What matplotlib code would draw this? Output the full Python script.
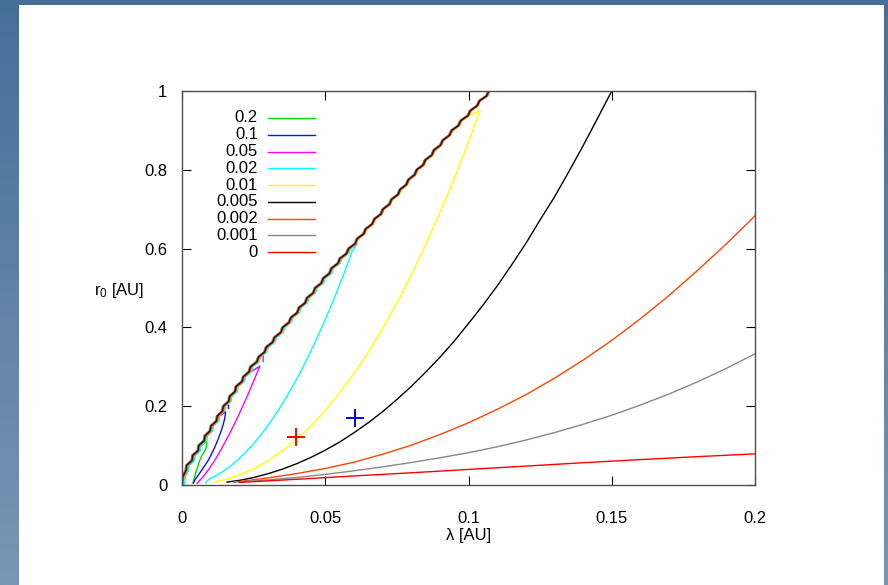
"""Stability region curves r0 vs lambda, gnuplot-like look."""

import matplotlib
matplotlib.use("Agg")
import matplotlib.pyplot as plt
import numpy as np
from matplotlib.patches import Rectangle

plt.rcParams["font.family"] = ["Liberation Sans", "DejaVu Sans"]
plt.rcParams["mathtext.fontset"] = "custom"
plt.rcParams["mathtext.rm"] = "Liberation Sans"
plt.rcParams["mathtext.it"] = "Liberation Sans"

# legend entries, top to bottom
labels = ["0.2", "0.1", "0.05", "0.02", "0.01", "0.005", "0.002", "0.001", "0"]
colors = ["#00e000", "#1010ff", "#ff00ff", "#00ffff", "#ffff00",
          "#000000", "#ff4500", "#888888", "#ff0000"]

# shared wavy upper boundary (lambda, r0)
boundary_r = [0.0, 0.02, 0.0375, 0.05, 0.0625, 0.075, 0.0875, 0.1, 0.1125, 0.125,
              0.1375, 0.15, 0.1625, 0.175, 0.1875, 0.2, 0.2125, 0.225, 0.2375, 0.25,
              0.2625, 0.275, 0.2875, 0.3, 0.3125, 0.325, 0.3375, 0.35, 0.3625, 0.375,
              0.3875, 0.4, 0.4125, 0.425, 0.4375, 0.45, 0.4625, 0.475, 0.4875, 0.5,
              0.5125, 0.525, 0.5375, 0.55, 0.5625, 0.575, 0.5875, 0.6, 0.6125, 0.625,
              0.6375, 0.65, 0.6625, 0.675, 0.6875, 0.7, 0.7125, 0.725, 0.7375, 0.75,
              0.7625, 0.775, 0.7875, 0.8, 0.8125, 0.825, 0.8375, 0.85, 0.8625, 0.875,
              0.8875, 0.9, 0.9125, 0.925, 0.9375, 0.95, 0.9625, 0.975, 0.9875, 1.0]
boundary_lam = [0.0, 0.0002, 0.0014, 0.0016, 0.0035, 0.0037, 0.0056, 0.0058, 0.0077, 0.0080,
                0.0098, 0.0101, 0.0120, 0.0123, 0.0141, 0.0144, 0.0163, 0.0166, 0.0185, 0.0188,
                0.0209, 0.0214, 0.0234, 0.0239, 0.0261, 0.0267, 0.0288, 0.0294, 0.0316, 0.0323,
                0.0345, 0.0351, 0.0373, 0.0380, 0.0402, 0.0408, 0.0430, 0.0436, 0.0458, 0.0464,
                0.0486, 0.0493, 0.0515, 0.0521, 0.0544, 0.0551, 0.0574, 0.0581, 0.0604, 0.0611,
                0.0634, 0.0641, 0.0664, 0.0671, 0.0694, 0.0701, 0.0724, 0.0731, 0.0754, 0.0761,
                0.0783, 0.0790, 0.0812, 0.0819, 0.0842, 0.0849, 0.0872, 0.0879, 0.0902, 0.0910,
                0.0933, 0.0941, 0.0965, 0.0973, 0.0998, 0.1006, 0.1030, 0.1038, 0.1063, 0.1071]

# closed curves leave the boundary at these r0 values (0.2 .. 0.01)
loop_top = [0.1, 0.175, 0.2875, 0.6125, 0.9375]

# lower branches, from the tip down towards the origin
green_lam = [0.0086, 0.0086, 0.0083, 0.0077, 0.0070, 0.0065, 0.0060, 0.0055, 0.0050, 0.0045, 0.0041, 0.0038]
green_r = [0.110, 0.100, 0.092, 0.083, 0.076, 0.068, 0.058, 0.047, 0.036, 0.024, 0.013, 0.005]
blue_lam = [0.0152, 0.0151, 0.0148, 0.0143, 0.0138, 0.0127, 0.0115, 0.0104, 0.0092, 0.0080,
            0.0069, 0.0057, 0.0045, 0.0040]
blue_r = [0.186, 0.178, 0.165, 0.152, 0.140, 0.118, 0.097, 0.080, 0.063, 0.050,
          0.038, 0.025, 0.013, 0.005]
magenta_lam = [0.0272, 0.0260, 0.0245, 0.0230, 0.0215, 0.0200, 0.0185, 0.0170, 0.0155, 0.0140,
               0.0125, 0.0110, 0.0095, 0.0080, 0.0065, 0.0057, 0.0053]
magenta_r = [0.302, 0.281, 0.255, 0.229, 0.205, 0.181, 0.158, 0.136, 0.115, 0.0946,
             0.0755, 0.0578, 0.0414, 0.0267, 0.014, 0.0082, 0.004]
cyan_lam = [0.0595, 0.0570, 0.0545, 0.0520, 0.0495, 0.0470, 0.0445, 0.0420, 0.0395, 0.0370,
            0.0345, 0.0320, 0.0295, 0.0270, 0.0245, 0.0220, 0.0195, 0.0170, 0.0145, 0.0120,
            0.0095, 0.0082]
cyan_r = [0.595, 0.546, 0.499, 0.454, 0.412, 0.371, 0.333, 0.296, 0.262, 0.230,
          0.200, 0.172, 0.146, 0.1225, 0.101, 0.0813, 0.0639, 0.0486, 0.0353, 0.0242,
          0.0152, 0.006]
yellow_lam = [0.1040, 0.1000, 0.0950, 0.0900, 0.0850, 0.0800, 0.0750, 0.0700, 0.0650, 0.0600,
              0.0550, 0.0500, 0.0450, 0.0400, 0.0350, 0.0300, 0.0250, 0.0200, 0.0150, 0.0115]
yellow_r = [0.950, 0.871, 0.778, 0.691, 0.610, 0.533, 0.462, 0.397, 0.337, 0.283,
            0.234, 0.189, 0.150, 0.116, 0.0865, 0.0616, 0.0412, 0.0253, 0.0134, 0.0075]

# open lower branches, from the origin end outwards
black_lam = [0.0157, 0.020, 0.025, 0.030, 0.035, 0.040, 0.045, 0.050, 0.055, 0.060,
             0.065, 0.070, 0.075, 0.080, 0.085, 0.090, 0.095, 0.100, 0.105, 0.110,
             0.115, 0.120, 0.125, 0.130, 0.135, 0.140, 0.145, 0.150]
black_r = [0.0075, 0.0117, 0.019, 0.0286, 0.0402, 0.054, 0.070, 0.0884, 0.109, 0.1325,
           0.158, 0.186, 0.217, 0.250, 0.286, 0.324, 0.365, 0.410, 0.456, 0.505,
           0.558, 0.613, 0.673, 0.731, 0.795, 0.861, 0.930, 1.0]
orange_lam = [0.0197, 0.03, 0.04, 0.05, 0.06, 0.07, 0.08, 0.09, 0.10, 0.11,
              0.12, 0.13, 0.14, 0.15, 0.16, 0.17, 0.18, 0.19, 0.20]
orange_r = [0.0085, 0.018, 0.029, 0.042, 0.058, 0.078, 0.101, 0.128, 0.158, 0.192,
            0.229, 0.271, 0.317, 0.367, 0.422, 0.481, 0.545, 0.612, 0.683]
gray_lam = [0.018, 0.03, 0.04, 0.05, 0.06, 0.07, 0.08, 0.09, 0.10, 0.11,
            0.12, 0.13, 0.14, 0.15, 0.16, 0.17, 0.18, 0.19, 0.20]
gray_r = [0.007, 0.013, 0.019, 0.027, 0.036, 0.046, 0.057, 0.069, 0.082, 0.097,
          0.114, 0.133, 0.154, 0.177, 0.203, 0.231, 0.262, 0.296, 0.333]
red_lam = [0.020, 0.04, 0.06, 0.08, 0.10, 0.12, 0.14, 0.16, 0.18, 0.20]
red_r = [0.0065, 0.0145, 0.023, 0.031, 0.0395, 0.048, 0.0565, 0.0645, 0.072, 0.079]

# small stray contour pieces above the 0.05 and 0.1 tips
stray_lam = [[0.0284, 0.0283], [0.0162, 0.0162]]
stray_r = [[0.326, 0.313], [0.203, 0.195]]
stray_idx = [2, 1]

# marked points
mark_lam = [0.0398, 0.0604]
mark_r = [0.122, 0.170]
mark_colors = ["#ff0000", "#0000ff"]

loop_lower = [(green_lam, green_r), (blue_lam, blue_r), (magenta_lam, magenta_r),
              (cyan_lam, cyan_r), (yellow_lam, yellow_r)]
open_lower = [(black_lam, black_r), (orange_lam, orange_r), (gray_lam, gray_r), (red_lam, red_r)]

# style: small sideways shifts so the overlapping boundaries blend
loop_shift = [0.0007, 0.0007, 0.0007, 0.0008, 0.0004]
# drawing order for the shared boundary: red, gray, orange, black on top
edge_order = [3, 2, 1, 0]
edge_shift = {0: 0.0, 1: 0.0003, 2: -0.0003, 3: 0.0}
edge_width = {0: 1.0, 1: 1.0, 2: 1.0, 3: 1.8}
edge_alpha = {0: 0.8, 1: 1.0, 2: 1.0, 3: 0.7}

fig = plt.figure(figsize=(8.88, 5.85), dpi=100)

# blue gradient frame with white page
bg = fig.add_axes([0, 0, 1, 1], zorder=-10)
grad = np.linspace(0, 1, 256).reshape(-1, 1)
bg.imshow(grad, aspect="auto", extent=[0, 1, 0, 1], origin="upper",
          cmap=matplotlib.colors.LinearSegmentedColormap.from_list("bgc", ["#466f98", "#7896b5"]))
bg.axis("off")
fig.patches.append(Rectangle((19 / 888, 0), 865 / 888, 580 / 585, transform=fig.transFigure,
                             facecolor="white", edgecolor="none", zorder=-5))

ax = fig.add_axes([182 / 888, 1 - 485 / 585, 573 / 888, 394 / 585])
ax.set_facecolor("none")

b_lam = np.array(boundary_lam)
b_r = np.array(boundary_r)

for i, (lam, r) in enumerate(loop_lower):
    keep = b_r <= loop_top[i] + 1e-9
    xs = np.concatenate([b_lam[keep] + loop_shift[i], lam])
    ys = np.concatenate([b_r[keep], r])
    ax.plot(xs, ys, color=colors[i], lw=1.0, solid_joinstyle="round")

for k, i in enumerate(stray_idx):
    ax.plot(stray_lam[k], stray_r[k], color=colors[i], lw=1.0)

for k, (lam, r) in enumerate(open_lower):
    ax.plot(lam, r, color=colors[5 + k], lw=1.0)
for k in edge_order:
    ax.plot(b_lam + edge_shift[k], b_r, color=colors[5 + k], lw=edge_width[k],
            alpha=edge_alpha[k], solid_joinstyle="round")

for lam, r, c in zip(mark_lam, mark_r, mark_colors):
    ax.plot(lam, r, marker="+", color=c, ms=13, mew=1.4, ls="none")

ax.set_xlim(0, 0.2)
ax.set_ylim(0, 1)
ax.set_xticks([0, 0.05, 0.1, 0.15, 0.2])
ax.set_xticklabels(["0", "0.05", "0.1", "0.15", "0.2"])
ax.set_yticks([0, 0.2, 0.4, 0.6, 0.8, 1])
ax.set_yticklabels(["0", "0.2", "0.4", "0.6", "0.8", "1"])
ax.tick_params(axis="x", direction="in", top=True, length=6.7, width=0.8, pad=19, labelsize=12)
ax.tick_params(axis="y", direction="in", right=True, length=6.7, width=0.8, pad=10.5, labelsize=12)
for sp in ax.spines.values():
    sp.set_color("#505050")
    sp.set_linewidth(1.0)
ax.set_xlabel("λ [AU]", fontsize=12, labelpad=1.5)
fig.text(119 / 888, 1 - 290 / 585, r"r$_{0}$ [AU]", fontsize=12, ha="center", va="center")

# gnuplot style key: right aligned label, then line sample
for i, lab in enumerate(labels):
    y = 0.9315 - i * 0.0426
    ax.text(0.1326, y, lab, transform=ax.transAxes, ha="right", va="center", fontsize=12)
    ax.plot([0.150, 0.232], [y, y], transform=ax.transAxes, color=colors[i], lw=1.0)

fig.savefig("out.png", dpi=100)
